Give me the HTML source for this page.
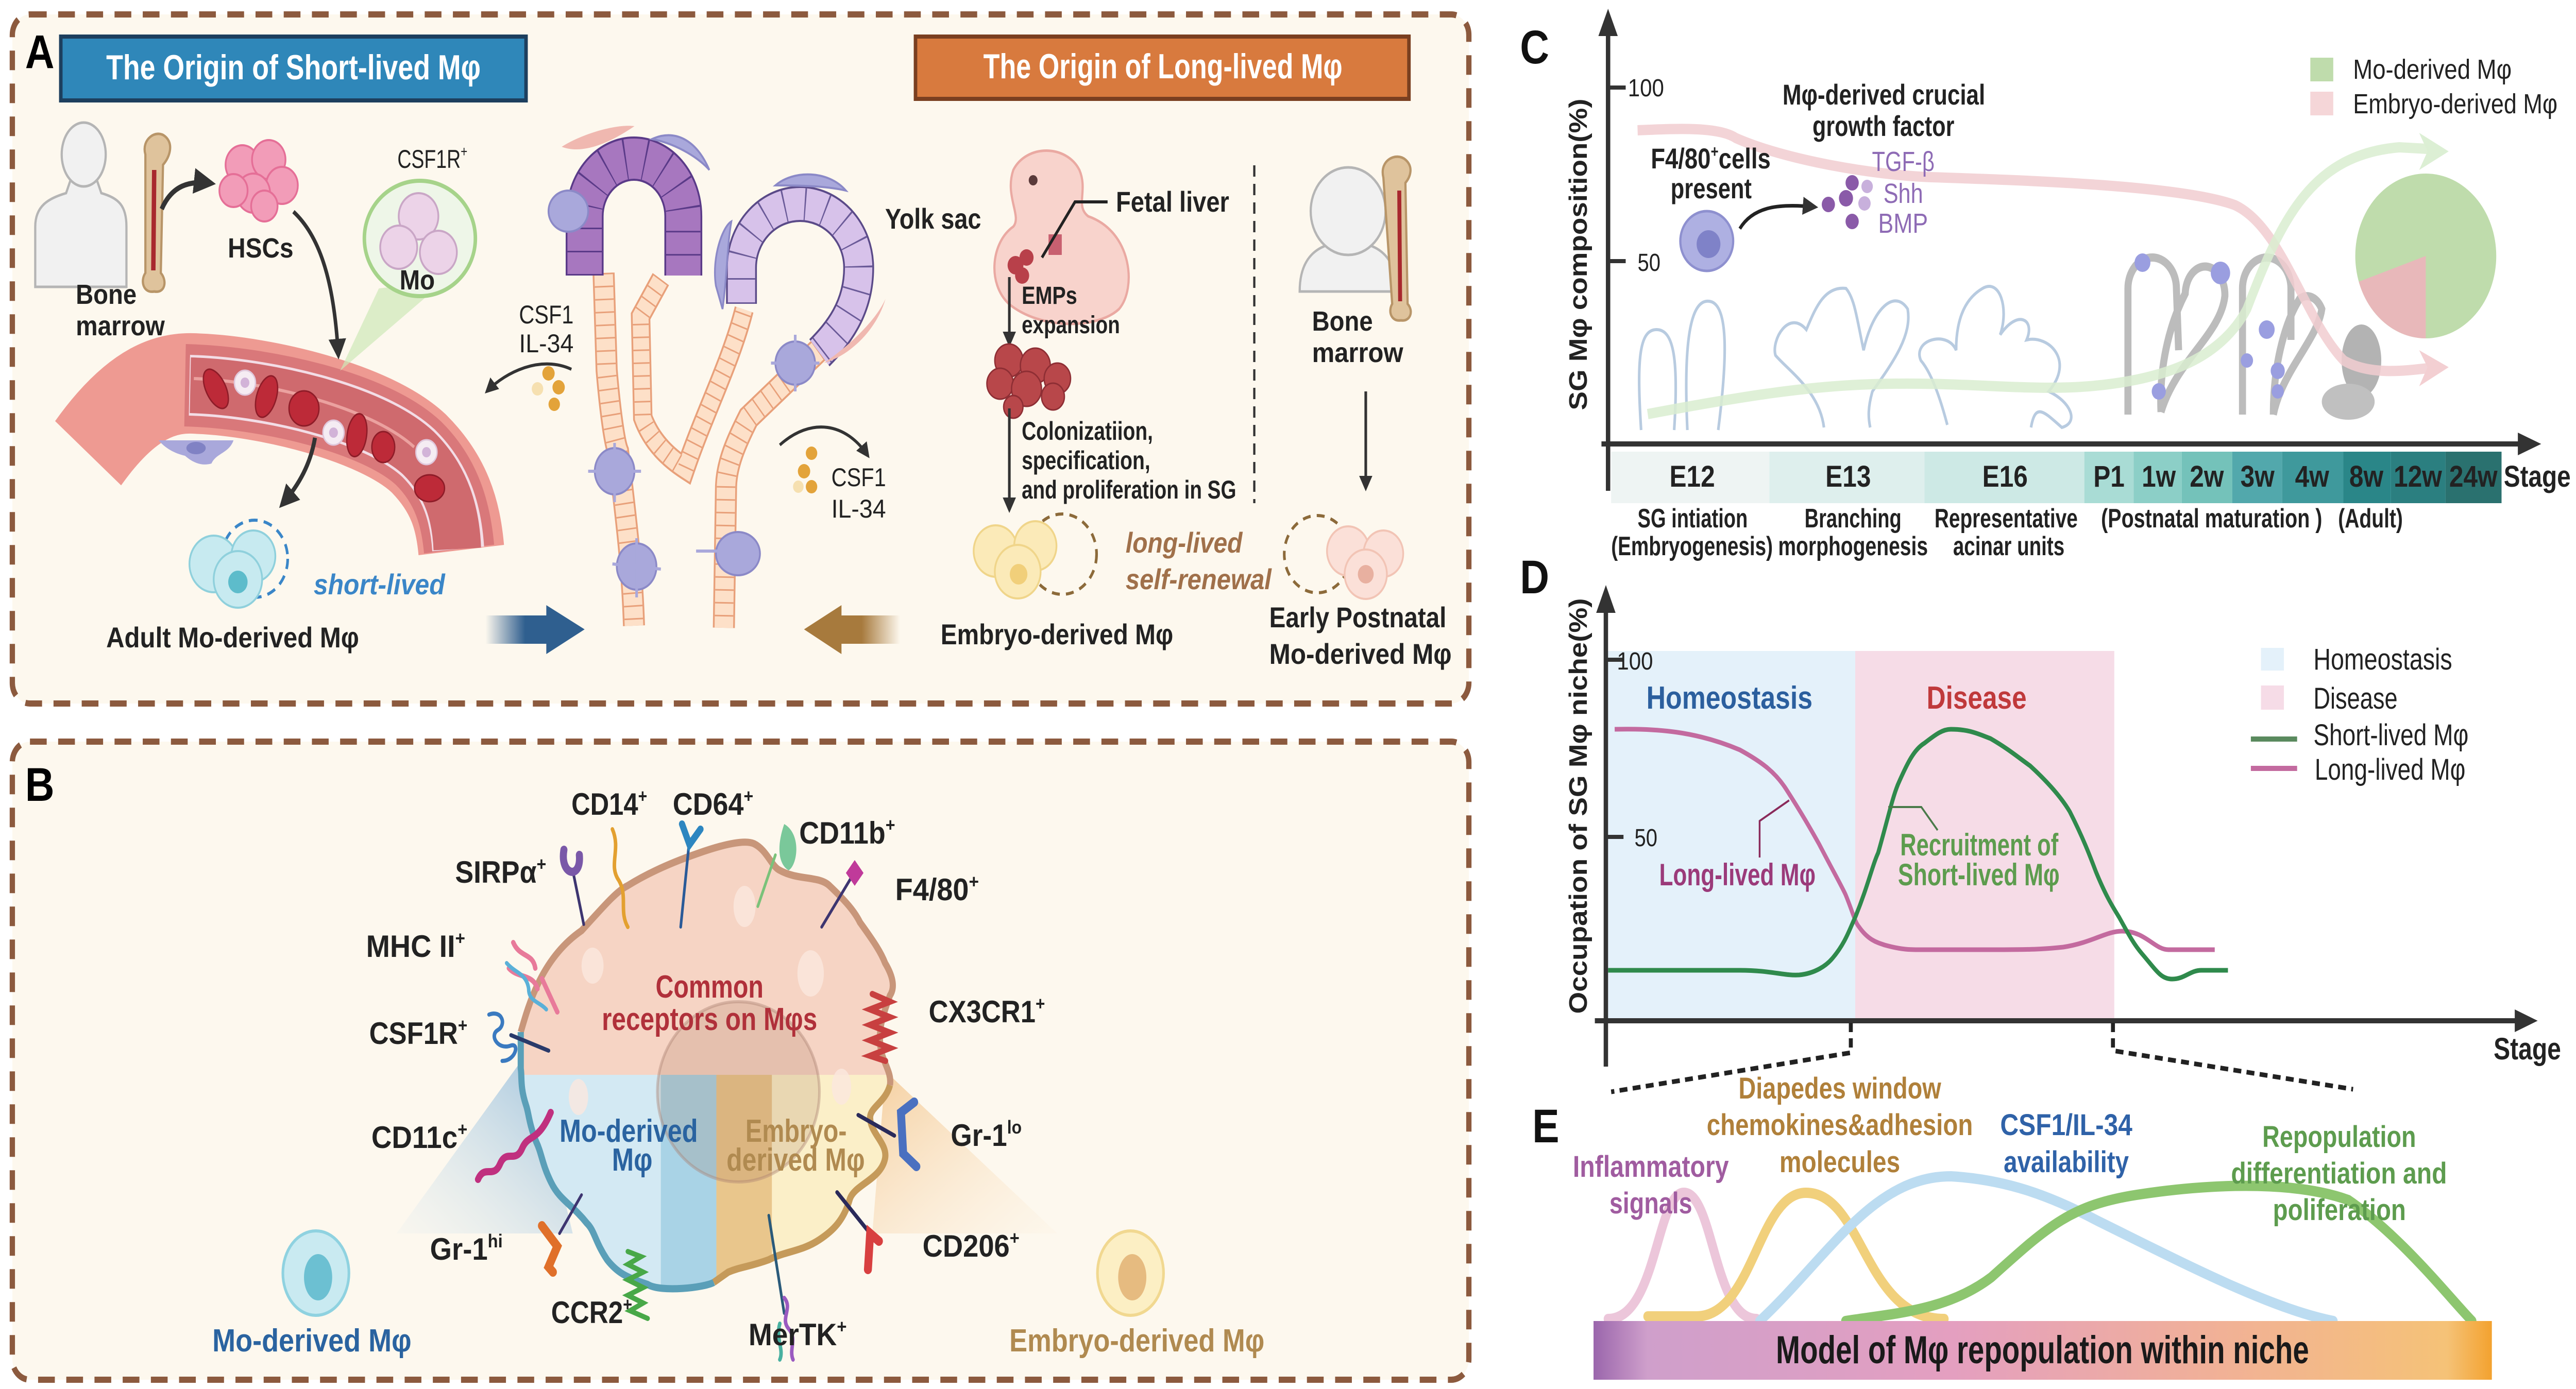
<!DOCTYPE html>
<html><head><meta charset="utf-8"><style>
html,body{margin:0;padding:0;background:#fff;overflow:hidden;width:100%;height:100%;}
svg{display:block;position:absolute;left:0;top:0;width:100vw;height:100vh;}
.t{font-family:"Liberation Sans Narrow","Liberation Sans",sans-serif;font-weight:bold;}
.r{font-family:"Liberation Sans Narrow","Liberation Sans",sans-serif;font-weight:normal;}
.w{font-family:"Liberation Sans","DejaVu Sans",sans-serif;font-weight:bold;}
</style></head><body>
<svg viewBox="0 0 5847 2697" preserveAspectRatio="none" xmlns="http://www.w3.org/2000/svg">
<defs>
<marker id="ar" viewBox="0 0 10 10" refX="8" refY="5" markerWidth="5" markerHeight="5" orient="auto"><path d="M0,0 L10,5 L0,10 Z" fill="#333"/></marker>
<linearGradient id="barg" x1="0" x2="1"><stop offset="0" stop-color="#9a66ac"/><stop offset="0.06" stop-color="#cf9fcb"/><stop offset="0.4" stop-color="#e49fc0"/><stop offset="0.7" stop-color="#f1b196"/><stop offset="0.95" stop-color="#f5c277"/><stop offset="1" stop-color="#f3a22f"/></linearGradient>
<linearGradient id="blueA" x1="0" x2="1"><stop offset="0" stop-color="#2f5f8f" stop-opacity="0"/><stop offset="0.4" stop-color="#2f5f8f"/></linearGradient>
<linearGradient id="brownA" x1="1" x2="0"><stop offset="0" stop-color="#a77a3d" stop-opacity="0"/><stop offset="0.4" stop-color="#a77a3d"/></linearGradient>
<linearGradient id="coneB" x1="1" y1="0" x2="0" y2="1"><stop offset="0" stop-color="#7fb0d6" stop-opacity="0.8"/><stop offset="1" stop-color="#cfe3f0" stop-opacity="0.1"/></linearGradient>
<linearGradient id="coneY" x1="0" y1="0" x2="1" y2="1"><stop offset="0" stop-color="#f3c48a" stop-opacity="0.8"/><stop offset="1" stop-color="#fbe8cf" stop-opacity="0.1"/></linearGradient>
<linearGradient id="vesL" x1="0" x2="1"><stop offset="0" stop-color="#ee9a92" stop-opacity="0"/><stop offset="0.3" stop-color="#ee9a92"/></linearGradient>
<clipPath id="cell"><path d="M1182,2004 C1200,1950 1230,1860 1320,1807 C1370,1760 1400,1730 1424,1720 C1480,1690 1540,1670 1584,1657 C1640,1640 1690,1630 1711,1638 C1740,1650 1750,1680 1768,1689 C1810,1710 1860,1700 1883,1720 C1920,1750 1940,1770 1952,1791 C1985,1830 2000,1850 2009,1870 C2030,1900 2030,1920 2020,1933 C2000,1980 1995,2000 1998,2028 C2000,2060 2025,2080 2020,2107 C2010,2140 1975,2150 1975,2170 C1975,2200 2015,2220 2009,2249 C2000,2290 1940,2300 1929,2328 C1915,2370 1890,2390 1860,2407 C1820,2430 1780,2430 1745,2446 C1700,2460 1680,2460 1653,2470 C1620,2490 1610,2500 1584,2494 C1540,2510 1500,2510 1470,2494 C1420,2480 1400,2470 1378,2446 C1350,2410 1350,2390 1332,2375 C1300,2340 1270,2330 1251,2296 C1230,2260 1230,2240 1217,2217 C1200,2180 1200,2160 1194,2146 C1180,2110 1185,2090 1182,2075 Z"/></clipPath>
</defs>

<!-- ================= PANEL A ================= -->
<rect x="28" y="28" width="3306" height="1338" rx="40" fill="#fdf8ee" stroke="#8c5a3e" stroke-width="12" stroke-dasharray="38 26"/>
<text class="w" x="57" y="132" font-size="92">A</text>
<rect x="138" y="71" width="1056" height="124" fill="#2f87b9" stroke="#1d3f5e" stroke-width="8"/>
<text class="t" x="241" y="154" font-size="68" fill="#fff" textLength="850" lengthAdjust="spacingAndGlyphs">The Origin of Short-lived Mφ</text>
<rect x="2078" y="71" width="1120" height="121" fill="#d87a3e" stroke="#7a3f20" stroke-width="8"/>
<text class="t" x="2232" y="152" font-size="68" fill="#fff" textLength="815" lengthAdjust="spacingAndGlyphs">The Origin of Long-lived Mφ</text>

<!-- person -->
<g fill="#f1f1f1" stroke="#b5b5b5" stroke-width="5">
<path d="M80,557 L80,440 C80,400 110,385 150,375 L160,350 L220,350 L230,375 C270,385 287,400 287,440 L287,557 Z"/>
<ellipse cx="190" cy="300" rx="50" ry="62"/>
</g>
<path d="M330,300 C320,270 355,250 375,265 C395,280 385,305 370,320 L365,530 C380,545 375,570 350,566 C325,570 318,545 330,530 Z" fill="#dfc39c" stroke="#b89568" stroke-width="5"/>
<path d="M350,330 L348,525" stroke="#a8282e" stroke-width="10"/>
<text class="t" x="172" y="590" font-size="54" fill="#222" textLength="138" lengthAdjust="spacingAndGlyphs">Bone</text>
<text class="t" x="172" y="651" font-size="54" fill="#222" textLength="202" lengthAdjust="spacingAndGlyphs">marrow</text>
<path d="M367,406 C390,360 430,350 480,356" fill="none" stroke="#333" stroke-width="10" marker-end="url(#ar)"/>
<g fill="#f29cb8" stroke="#e56f97" stroke-width="4">
<circle cx="550" cy="320" r="38"/><circle cx="610" cy="310" r="38"/><circle cx="640" cy="360" r="36"/><circle cx="575" cy="375" r="38"/><circle cx="530" cy="370" r="32"/><circle cx="600" cy="400" r="30"/>
</g>
<text class="t" x="517" y="500" font-size="54" fill="#222" textLength="149" lengthAdjust="spacingAndGlyphs">HSCs</text>
<!-- vessel -->
<path d="M200,880 C300,760 380,740 450,745 C600,750 850,800 950,880 C1020,940 1040,1000 1047,1068" fill="none" stroke="#ee9a92" stroke-width="195"/>
<path d="M150,900 C200,850 230,820 260,800" fill="none" stroke="#fdf8ee" stroke-width="0"/>
<path d="M420,748 C600,752 850,800 950,880 C1015,935 1035,1000 1042,1066" fill="none" stroke="#d9787a" stroke-width="160"/>
<path d="M430,748 C600,752 850,800 950,880 C1015,935 1035,1000 1040,1066" fill="none" stroke="#f3dde6" stroke-width="118"/>
<path d="M432,748 C600,752 850,800 950,880 C1015,935 1035,1000 1038,1066" fill="none" stroke="#cf6a6e" stroke-width="108"/>
<path d="M440,735 C600,740 840,790 940,868" fill="none" stroke="#f6b9b3" stroke-width="6" opacity="0.7"/>
<g fill="#bd2a38" stroke="#8e1c28" stroke-width="3">
<ellipse cx="490" cy="755" rx="22" ry="42" transform="rotate(-30 490 755)"/><ellipse cx="605" cy="770" rx="22" ry="42" transform="rotate(20 605 770)"/><ellipse cx="690" cy="793" rx="34" ry="34"/><ellipse cx="810" cy="845" rx="22" ry="42" transform="rotate(10 810 845)"/><ellipse cx="870" cy="868" rx="26" ry="30"/><ellipse cx="975" cy="948" rx="34" ry="26"/>
</g>
<g fill="#f5ecf3" stroke="#e0c8dc" stroke-width="3"><circle cx="556" cy="743" r="24"/><circle cx="757" cy="840" r="24"/><circle cx="968" cy="878" r="24"/></g>
<g fill="#d2b3d8"><circle cx="556" cy="743" r="10"/><circle cx="757" cy="840" r="10"/><circle cx="968" cy="878" r="10"/></g>
<path d="M360,855 L530,855 C520,880 490,880 480,900 C460,905 440,900 420,885 C395,880 375,870 360,855Z" fill="#a9a8db"/>
<ellipse cx="445" cy="870" rx="22" ry="12" fill="#8082c4"/>
<!-- Mo circle + cone -->
<polygon points="772,720 860,560 1010,545" fill="#cde8b8" opacity="0.7"/>
<ellipse cx="953" cy="463" rx="126" ry="112" fill="#eef6e8" stroke="#a6d38a" stroke-width="8"/>
<g fill="#ecd3e8" stroke="#c9a6c6" stroke-width="4"><circle cx="950" cy="420" r="45"/><circle cx="905" cy="480" r="42"/><circle cx="995" cy="490" r="42"/></g>
<text class="r" x="902" y="326" font-size="50" fill="#222" textLength="159" lengthAdjust="spacingAndGlyphs">CSF1R<tspan font-size="30" dy="-22">+</tspan></text>
<text class="t" x="907" y="562" font-size="54" fill="#222" textLength="80" lengthAdjust="spacingAndGlyphs">Mo</text>
<path d="M666,411 C740,470 760,580 768,690" fill="none" stroke="#333" stroke-width="8" marker-end="url(#ar)"/>
<path d="M715,850 C705,900 680,940 640,980" fill="none" stroke="#333" stroke-width="9" marker-end="url(#ar)"/>
<!-- short-lived cells -->
<circle cx="578" cy="1085" r="75" fill="none" stroke="#3a86c8" stroke-width="6" stroke-dasharray="20 14"/>
<g fill="#c7eaf0" stroke="#8fd0dc" stroke-width="4"><circle cx="485" cy="1095" r="55"/><circle cx="575" cy="1080" r="50"/><circle cx="540" cy="1125" r="55"/></g>
<circle cx="540" cy="1130" r="22" fill="#5dbccb"/>
<text class="t" x="712" y="1154" font-size="56" font-style="italic" fill="#3a86c8" textLength="298" lengthAdjust="spacingAndGlyphs">short-lived</text>
<text class="t" x="241" y="1257" font-size="56" fill="#222" textLength="574" lengthAdjust="spacingAndGlyphs">Adult Mo-derived Mφ</text>
<polygon points="1102,1195 1240,1195 1240,1175 1327,1222 1240,1270 1240,1250 1102,1250" fill="url(#blueA)"/>
<polygon points="2043,1195 1910,1195 1910,1175 1825,1222 1910,1270 1910,1250 2043,1250" fill="url(#brownA)"/>

<!-- gland -->
<g fill="none" stroke-linecap="butt">
<path d="M1370,530 L1377,719 C1385,800 1395,860 1403,877 C1420,1000 1435,1100 1439,1215" stroke="#e8a07a" stroke-width="50"/>
<path d="M1370,530 L1377,719 C1385,800 1395,860 1403,877 C1420,1000 1435,1100 1439,1215" stroke="#fde0c8" stroke-width="42"/>
<path d="M1370,530 L1377,719 C1385,800 1395,860 1403,877 C1420,1000 1435,1100 1439,1215" stroke="#e8a07a" stroke-width="42" stroke-dasharray="3 22"/>
<path d="M1500,542 L1454,614 L1459,811 C1480,860 1520,890 1556,910 C1600,800 1660,700 1689,601" stroke="#e8a07a" stroke-width="44"/>
<path d="M1500,542 L1454,614 L1459,811 C1480,860 1520,890 1556,910 C1600,800 1660,700 1689,601" stroke="#fde0c8" stroke-width="36"/>
<path d="M1500,542 L1454,614 L1459,811 C1480,860 1520,890 1556,910 C1600,800 1660,700 1689,601" stroke="#e8a07a" stroke-width="36" stroke-dasharray="3 22"/>
<path d="M1858,680 L1699,811 C1670,860 1650,900 1648,943 L1643,1219" stroke="#e8a07a" stroke-width="50"/>
<path d="M1858,680 L1699,811 C1670,860 1650,900 1648,943 L1643,1219" stroke="#fde0c8" stroke-width="42"/>
<path d="M1858,680 L1699,811 C1670,860 1650,900 1648,943 L1643,1219" stroke="#e8a07a" stroke-width="42" stroke-dasharray="3 22"/>
<path d="M1327,535 L1327,420 A112,112 0 0 1 1551,420 L1551,535" stroke="#5a3a88" stroke-width="86"/>
<path d="M1327,535 L1327,420 A112,112 0 0 1 1551,420 L1551,535" stroke="#a777bf" stroke-width="78"/>
<path d="M1327,535 L1327,420 A112,112 0 0 1 1551,420 L1551,535" stroke="#5a3a88" stroke-width="78" stroke-dasharray="3 42"/>
<path d="M1683,590 L1683,520 A133,124 0 0 1 1949,520 C1949,600 1900,650 1860,685" stroke="#5a4a88" stroke-width="70"/>
<path d="M1683,590 L1683,520 A133,124 0 0 1 1949,520 C1949,600 1900,650 1860,685" stroke="#d7c2ea" stroke-width="62"/>
<path d="M1683,590 L1683,520 A133,124 0 0 1 1949,520 C1949,600 1900,650 1860,685" stroke="#6a5a98" stroke-width="62" stroke-dasharray="3 44"/>
</g>
<g fill="#a9a8db" stroke="#8b89c7" stroke-width="4">
<ellipse cx="1290" cy="410" rx="45" ry="40"/><path d="M1480,270 C1530,250 1580,270 1610,330 C1590,310 1540,280 1480,270Z"/><path d="M1760,360 C1800,330 1880,330 1920,370 C1870,360 1800,360 1760,360Z"/><path d="M1625,555 C1615,500 1640,440 1660,430 C1650,480 1650,540 1640,600Z"/>
<ellipse cx="1805" cy="705" rx="45" ry="42"/><ellipse cx="1395" cy="915" rx="45" ry="45"/><ellipse cx="1445" cy="1100" rx="45" ry="45"/><ellipse cx="1675" cy="1075" rx="50" ry="42"/>
</g>
<g stroke="#a9a8db" stroke-width="6"><path d="M1335,915 L1455,915 M1395,860 L1395,975 M1390,1095 L1500,1105 M1445,1045 L1445,1160 M1580,1070 L1720,1070 M1750,705 L1860,705 M1805,650 L1805,760"/></g>
<path d="M1275,285 C1320,260 1400,240 1440,245 C1380,280 1320,300 1275,285Z" fill="#f0b8b0"/>
<path d="M1870,705 C1930,670 1990,620 2010,580 C1990,640 1930,690 1870,705Z" fill="#f0b8b0"/>
<text class="r" x="1178" y="628" font-size="50" fill="#222" textLength="124" lengthAdjust="spacingAndGlyphs">CSF1</text>
<text class="r" x="1178" y="684" font-size="50" fill="#222" textLength="124" lengthAdjust="spacingAndGlyphs">IL-34</text>
<g fill="#e3a33a"><circle cx="1245" cy="725" r="14"/><circle cx="1268" cy="752" r="14"/><circle cx="1258" cy="785" r="13"/></g><circle cx="1220" cy="755" r="13" fill="#f6e0b0"/>
<path d="M1297,717 C1230,690 1150,720 1105,760" fill="none" stroke="#333" stroke-width="6" marker-end="url(#ar)"/>
<text class="r" x="1887" y="944" font-size="50" fill="#222" textLength="124" lengthAdjust="spacingAndGlyphs">CSF1</text>
<text class="r" x="1887" y="1005" font-size="50" fill="#222" textLength="124" lengthAdjust="spacingAndGlyphs">IL-34</text>
<g fill="#e3a33a"><circle cx="1842" cy="880" r="13"/><circle cx="1825" cy="915" r="14"/><circle cx="1842" cy="945" r="13"/></g><circle cx="1812" cy="945" r="12" fill="#f6e0b0"/>
<path d="M1770,864 C1840,810 1920,820 1970,885" fill="none" stroke="#333" stroke-width="6" marker-end="url(#ar)"/>

<!-- right side A -->
<path d="M2300,330 C2330,280 2420,280 2450,330 C2470,370 2440,400 2470,420 C2570,450 2580,560 2540,600 C2490,640 2360,640 2290,590 C2240,550 2250,470 2300,440 C2320,420 2280,380 2300,330Z" fill="#f8d3cc" stroke="#eaa9a2" stroke-width="5"/>
<circle cx="2345" cy="350" r="10" fill="#5a3a3a"/>
<g fill="#b8404a"><circle cx="2305" cy="515" r="18"/><circle cx="2330" cy="500" r="16"/><circle cx="2320" cy="535" r="16"/></g>
<rect x="2380" y="455" width="30" height="40" fill="#c86070"/>
<path d="M2514,392 L2440,392 L2365,500" fill="none" stroke="#222" stroke-width="6"/>
<text class="t" x="2009" y="444" font-size="56" fill="#222" textLength="218" lengthAdjust="spacingAndGlyphs">Yolk sac</text>
<text class="t" x="2533" y="411" font-size="56" fill="#222" textLength="257" lengthAdjust="spacingAndGlyphs">Fetal liver</text>
<text class="t" x="2319" y="590" font-size="48" fill="#222" textLength="126" lengthAdjust="spacingAndGlyphs">EMPs</text>
<text class="t" x="2319" y="647" font-size="48" fill="#222" textLength="223" lengthAdjust="spacingAndGlyphs">expansion</text>
<line x1="2291" y1="538" x2="2291" y2="668" stroke="#333" stroke-width="6" marker-end="url(#ar)"/>
<g fill="#b8474a" stroke="#8e2e34" stroke-width="3"><circle cx="2290" cy="700" r="32"/><circle cx="2350" cy="710" r="34"/><circle cx="2400" cy="735" r="30"/><circle cx="2270" cy="745" r="30"/><circle cx="2330" cy="755" r="34"/><circle cx="2390" cy="770" r="26"/><circle cx="2300" cy="790" r="22"/></g>
<line x1="2291" y1="793" x2="2291" y2="990" stroke="#333" stroke-width="6" marker-end="url(#ar)"/>
<text class="t" x="2319" y="854" font-size="50" fill="#222" textLength="298" lengthAdjust="spacingAndGlyphs">Colonizatiion,</text>
<text class="t" x="2319" y="911" font-size="50" fill="#222" textLength="292" lengthAdjust="spacingAndGlyphs">specification,</text>
<text class="t" x="2319" y="968" font-size="50" fill="#222" textLength="487" lengthAdjust="spacingAndGlyphs">and proliferation in SG</text>
<line x1="2847" y1="321" x2="2847" y2="977" stroke="#333" stroke-width="5" stroke-dasharray="22 14"/>
<g fill="#f1f1f1" stroke="#b5b5b5" stroke-width="5">
<path d="M2950,566 C2950,500 2990,470 3060,470 C3130,470 3170,500 3170,566 Z"/>
<circle cx="3060" cy="410" r="85"/>
</g>
<path d="M3140,345 C3130,310 3170,295 3190,310 C3210,325 3200,345 3190,355 L3195,590 C3210,605 3200,625 3180,622 C3158,625 3150,605 3160,590 Z" fill="#dfc39c" stroke="#b89568" stroke-width="5"/>
<path d="M3176,370 L3178,585" stroke="#a8282e" stroke-width="9"/>
<text class="t" x="2978" y="642" font-size="54" fill="#222" textLength="138" lengthAdjust="spacingAndGlyphs">Bone</text>
<text class="t" x="2978" y="703" font-size="54" fill="#222" textLength="207" lengthAdjust="spacingAndGlyphs">marrow</text>
<line x1="3100" y1="760" x2="3100" y2="948" stroke="#333" stroke-width="6" marker-end="url(#ar)"/>
<circle cx="2411" cy="1076" r="78" fill="none" stroke="#8c6a3a" stroke-width="6" stroke-dasharray="18 14"/>
<g fill="#fbeab8" stroke="#f0d58a" stroke-width="4"><circle cx="2260" cy="1070" r="50"/><circle cx="2350" cy="1060" r="48"/><circle cx="2310" cy="1110" r="52"/></g>
<circle cx="2312" cy="1115" r="20" fill="#f1cf7a"/>
<text class="t" x="2555" y="1073" font-size="56" font-style="italic" fill="#a0704a" textLength="265" lengthAdjust="spacingAndGlyphs">long-lived</text>
<text class="t" x="2555" y="1144" font-size="56" font-style="italic" fill="#a0704a" textLength="331" lengthAdjust="spacingAndGlyphs">self-renewal</text>
<circle cx="2990" cy="1076" r="75" fill="none" stroke="#8c6a3a" stroke-width="6" stroke-dasharray="18 14"/>
<g fill="#fbe0d8" stroke="#f2c4b5" stroke-width="4"><circle cx="3060" cy="1070" r="48"/><circle cx="3140" cy="1075" r="45"/><circle cx="3100" cy="1115" r="48"/></g>
<circle cx="3100" cy="1115" r="18" fill="#e8b0a0"/>
<text class="t" x="2135" y="1251" font-size="56" fill="#222" textLength="528" lengthAdjust="spacingAndGlyphs">Embryo-derived Mφ</text>
<text class="t" x="2881" y="1218" font-size="56" fill="#222" textLength="402" lengthAdjust="spacingAndGlyphs">Early Postnatal</text>
<text class="t" x="2881" y="1289" font-size="56" fill="#222" textLength="414" lengthAdjust="spacingAndGlyphs">Mo-derived Mφ</text>

<!-- ================= PANEL B ================= -->
<rect x="28" y="1440" width="3306" height="1239" rx="40" fill="#fdf8ee" stroke="#8c5a3e" stroke-width="12" stroke-dasharray="38 26"/>
<text class="w" x="57" y="1555" font-size="92">B</text>
<polygon points="1200,2040 900,2395 1300,2395" fill="url(#coneB)"/>
<polygon points="2010,2080 2400,2395 1980,2395" fill="url(#coneY)"/>
<g clip-path="url(#cell)">
<rect x="1100" y="1600" width="1000" height="487" fill="#f6d4c4"/>
<rect x="1100" y="2087" width="526" height="500" fill="#d3e9f3"/>
<rect x="1626" y="2087" width="500" height="500" fill="#fbefc8"/>
<rect x="1500" y="2087" width="126" height="500" fill="#a9d3e6"/>
<rect x="1626" y="2087" width="126" height="500" fill="#e9c68c"/>
</g>
<path d="M1182,2004 C1200,1950 1230,1860 1320,1807 C1370,1760 1400,1730 1424,1720 C1480,1690 1540,1670 1584,1657 C1640,1640 1690,1630 1711,1638 C1740,1650 1750,1680 1768,1689 C1810,1710 1860,1700 1883,1720 C1920,1750 1940,1770 1952,1791 C1985,1830 2000,1850 2009,1870 C2030,1900 2030,1920 2020,1933 C2000,1980 1995,2000 1998,2028 C2000,2060 2025,2080 2020,2107" fill="none" stroke="#c8967a" stroke-width="14"/>
<path d="M2020,2107 C2010,2140 1975,2150 1975,2170 C1975,2200 2015,2220 2009,2249 C2000,2290 1940,2300 1929,2328 C1915,2370 1890,2390 1860,2407 C1820,2430 1780,2430 1745,2446 C1700,2460 1680,2460 1653,2470 C1640,2478 1630,2484 1620,2490" fill="none" stroke="#c59a5a" stroke-width="14"/>
<path d="M1620,2490 C1600,2500 1500,2510 1470,2494 C1420,2480 1400,2470 1378,2446 C1350,2410 1350,2390 1332,2375 C1300,2340 1270,2330 1251,2296 C1230,2260 1230,2240 1217,2217 C1200,2180 1200,2160 1194,2146 C1180,2110 1185,2090 1182,2075 L1182,2004" fill="none" stroke="#5a9fb8" stroke-width="14"/>
<ellipse cx="1676" cy="2120" rx="184" ry="175" fill="#9a6a50" fill-opacity="0.18" stroke="#a98070" stroke-opacity="0.4" stroke-width="6"/>
<g fill="#fbe7df" opacity="0.8"><ellipse cx="1690" cy="1760" rx="25" ry="40"/><ellipse cx="1345" cy="1875" rx="25" ry="35"/><ellipse cx="1840" cy="1890" rx="30" ry="45"/><ellipse cx="1313" cy="2130" rx="22" ry="35"/><ellipse cx="1910" cy="2110" rx="22" ry="35"/></g>
<text class="t" x="1488" y="1937" font-size="62" fill="#b0303a" textLength="245" lengthAdjust="spacingAndGlyphs">Common</text>
<text class="t" x="1366" y="2000" font-size="62" fill="#b0303a" textLength="489" lengthAdjust="spacingAndGlyphs">receptors on Mφs</text>
<text class="t" x="1270" y="2217" font-size="62" fill="#2a63a0" textLength="314" lengthAdjust="spacingAndGlyphs">Mo-derived</text>
<text class="t" x="1389" y="2273" font-size="62" fill="#2a63a0" textLength="92" lengthAdjust="spacingAndGlyphs">Mφ</text>
<text class="t" x="1692" y="2217" font-size="62" fill="#b08a50" textLength="230" lengthAdjust="spacingAndGlyphs">Embryo-</text>
<text class="t" x="1649" y="2273" font-size="62" fill="#b08a50" textLength="314" lengthAdjust="spacingAndGlyphs">derived Mφ</text>
<g fill="none" stroke-linecap="round">
<line x1="1325" y1="1795" x2="1300" y2="1690" stroke="#3d3570" stroke-width="6"/><path d="M1280,1650 C1270,1700 1320,1710 1315,1660" stroke="#7a58a8" stroke-width="16"/>
<path d="M1390,1610 C1410,1650 1380,1680 1405,1710 C1425,1740 1405,1770 1425,1800" stroke="#e3a030" stroke-width="8"/>
<line x1="1545" y1="1800" x2="1565" y2="1630" stroke="#2a5a98" stroke-width="6"/><path d="M1548,1600 L1565,1640 L1590,1610" stroke="#2d86c0" stroke-width="14"/>
<line x1="1720" y1="1760" x2="1760" y2="1660" stroke="#7ac27a" stroke-width="6"/>
<line x1="1865" y1="1800" x2="1935" y2="1700" stroke="#3d3570" stroke-width="6"/>
<path d="M1165,1830 C1180,1860 1210,1850 1215,1880 M1155,1880 C1175,1900 1210,1890 1220,1920 M1230,1900 L1265,1965" stroke="#e87a9a" stroke-width="10"/>
<path d="M1150,1870 C1170,1890 1195,1890 1200,1920 C1200,1945 1225,1945 1240,1960" stroke="#5ab0d8" stroke-width="8"/>
<path d="M1110,1970 C1140,1960 1150,1990 1130,2000 C1110,2010 1130,2040 1160,2030 C1180,2025 1170,2060 1140,2060" stroke="#3a7ac0" stroke-width="8"/><line x1="1160" y1="2010" x2="1245" y2="2040" stroke="#2a3a6a" stroke-width="8"/>
<path d="M1980,1930 L2020,1945 L1975,1960 L2020,1975 L1975,1990 L2020,2005 L1975,2020 L2020,2035 L1975,2050 L2010,2060" stroke="#c84040" stroke-width="12"/>
<path d="M1085,2290 C1100,2260 1120,2290 1135,2260 C1150,2230 1170,2260 1185,2230 C1200,2200 1220,2220 1250,2160" stroke="#c0307f" stroke-width="14"/>
<line x1="1948" y1="2165" x2="2030" y2="2205" stroke="#2a2a5a" stroke-width="8"/><path d="M2075,2140 L2045,2160 L2050,2240 L2080,2265" stroke="#4a70c0" stroke-width="18"/>
<line x1="1320" y1="2320" x2="1270" y2="2395" stroke="#3d3570" stroke-width="6"/><path d="M1230,2380 L1265,2420 L1245,2460 L1255,2470" stroke="#e0702a" stroke-width="18"/>
<path d="M1425,2430 L1455,2440 L1425,2455 L1460,2470 L1425,2485 L1460,2500 L1425,2515 L1460,2530 L1430,2545 L1470,2560" stroke="#48a848" stroke-width="10"/>
<line x1="1745" y1="2360" x2="1780" y2="2550" stroke="#2a5a7a" stroke-width="6"/><path d="M1780,2520 C1800,2540 1770,2560 1790,2580 C1810,2600 1790,2620 1800,2640" stroke="#9a5ac0" stroke-width="8"/><path d="M1770,2570 C1760,2600 1780,2620 1770,2640" stroke="#48b0a0" stroke-width="8"/>
<line x1="1900" y1="2315" x2="1975" y2="2395" stroke="#2a2a5a" stroke-width="8"/><path d="M1995,2410 L1975,2395 L1970,2465" stroke="#d84040" stroke-width="18"/>
</g>
<path d="M1780,1600 C1820,1620 1810,1680 1790,1690 C1770,1680 1760,1650 1780,1600Z" fill="#7ac89a"/>
<polygon points="1940,1670 1960,1695 1940,1720 1920,1695" fill="#c03a9a"/>
<g class="t" fill="#222" font-size="60">
<text x="1297" y="1582" textLength="172" lengthAdjust="spacingAndGlyphs">CD14<tspan font-size="36" dy="-24">+</tspan></text>
<text x="1527" y="1582" textLength="183" lengthAdjust="spacingAndGlyphs">CD64<tspan font-size="36" dy="-24">+</tspan></text>
<text x="1814" y="1638" textLength="218" lengthAdjust="spacingAndGlyphs">CD11b<tspan font-size="36" dy="-24">+</tspan></text>
<text x="1033" y="1714" textLength="207" lengthAdjust="spacingAndGlyphs">SIRPα<tspan font-size="36" dy="-24">+</tspan></text>
<text x="2032" y="1748" textLength="190" lengthAdjust="spacingAndGlyphs">F4/80<tspan font-size="36" dy="-24">+</tspan></text>
<text x="831" y="1858" textLength="225" lengthAdjust="spacingAndGlyphs">MHC II<tspan font-size="36" dy="-24">+</tspan></text>
<text x="2108" y="1985" textLength="264" lengthAdjust="spacingAndGlyphs">CX3CR1<tspan font-size="36" dy="-24">+</tspan></text>
<text x="838" y="2027" textLength="223" lengthAdjust="spacingAndGlyphs">CSF1R<tspan font-size="36" dy="-24">+</tspan></text>
<text x="843" y="2229" textLength="218" lengthAdjust="spacingAndGlyphs">CD11c<tspan font-size="36" dy="-24">+</tspan></text>
<text x="2158" y="2225" textLength="161" lengthAdjust="spacingAndGlyphs">Gr-1<tspan font-size="36" dy="-24">lo</tspan></text>
<text x="976" y="2446" textLength="165" lengthAdjust="spacingAndGlyphs">Gr-1<tspan font-size="36" dy="-24">hi</tspan></text>
<text x="2094" y="2440" textLength="220" lengthAdjust="spacingAndGlyphs">CD206<tspan font-size="36" dy="-24">+</tspan></text>
<text x="1251" y="2569" textLength="184" lengthAdjust="spacingAndGlyphs">CCR2<tspan font-size="36" dy="-24">+</tspan></text>
<text x="1699" y="2612" textLength="223" lengthAdjust="spacingAndGlyphs">MerTK<tspan font-size="36" dy="-24">+</tspan></text>
</g>
<ellipse cx="717" cy="2472" rx="75" ry="82" fill="#c9eaf1" stroke="#8fd2e0" stroke-width="6"/>
<ellipse cx="722" cy="2480" rx="32" ry="45" fill="#6cc0d2"/>
<ellipse cx="2566" cy="2472" rx="75" ry="82" fill="#fcefc4" stroke="#f1d890" stroke-width="6"/>
<ellipse cx="2570" cy="2480" rx="32" ry="45" fill="#e6bb80"/>
<text class="t" x="482" y="2624" font-size="62" fill="#2a63a0" textLength="452" lengthAdjust="spacingAndGlyphs">Mo-derived Mφ</text>
<text class="t" x="2291" y="2624" font-size="62" fill="#b08a50" textLength="579" lengthAdjust="spacingAndGlyphs">Embryo-derived Mφ</text>

<!-- ================= PANEL C ================= -->
<text class="w" x="3450" y="123" font-size="92" fill="#111">C</text>
<line x1="3650" y1="60" x2="3650" y2="953" stroke="#333" stroke-width="10"/>
<polygon points="3650,17 3628,70 3672,70" fill="#333"/>
<line x1="3635" y1="862" x2="5720" y2="862" stroke="#333" stroke-width="10"/>
<polygon points="5768,862 5715,840 5715,884" fill="#333"/>
<line x1="3650" y1="170" x2="3690" y2="170" stroke="#333" stroke-width="8"/>
<line x1="3650" y1="507" x2="3690" y2="507" stroke="#333" stroke-width="8"/>
<text class="r" x="3695" y="187" font-size="48" fill="#222" textLength="82" lengthAdjust="spacingAndGlyphs">100</text>
<text class="r" x="3717" y="526" font-size="48" fill="#222" textLength="52" lengthAdjust="spacingAndGlyphs">50</text>
<text class="w" transform="translate(3602,494) rotate(-90)" text-anchor="middle" font-size="58" fill="#222" textLength="605" lengthAdjust="spacingAndGlyphs">SG Mφ composition(%)</text>
<g fill="none" stroke="#b8cbe0" stroke-width="6">
<path d="M3725,835 C3715,700 3720,640 3760,640 C3800,640 3810,700 3800,835"/>
<path d="M3830,835 C3820,650 3840,580 3880,585 C3925,590 3920,700 3900,835"/>
<path d="M4140,830 C4130,760 4060,720 4030,690 C4020,660 4060,600 4100,640 C4120,600 4140,555 4190,560 C4210,580 4215,620 4230,680 C4250,600 4300,560 4330,600 C4340,650 4300,700 4250,760 C4240,790 4240,810 4245,830"/>
<path d="M4420,825 C4400,760 4380,720 4360,700 C4340,660 4420,640 4440,680 C4440,620 4460,580 4500,560 C4540,540 4560,600 4540,650 C4580,600 4620,620 4600,660 C4650,650 4710,700 4650,760 C4700,780 4720,820 4680,830 C4640,800 4620,780 4610,830"/>
</g>
<g fill="none" stroke="#bcbcbc" stroke-width="16">
<path d="M4830,805 L4830,560 A55,60 0 0 1 4940,560 L4945,680 M4905,800 C4900,700 4930,620 4960,570 A45,55 0 0 1 5050,575 C5040,650 4940,700 4905,800"/>
<path d="M5090,805 L5090,560 A55,60 0 0 1 5200,560 L5200,660 M5160,805 C5160,700 5190,620 5220,580 A40,55 0 0 1 5270,600 C5260,660 5180,720 5160,805"/>
</g>
<g fill="#9a9ee0"><circle cx="4863" cy="510" r="18"/><circle cx="4900" cy="760" r="16"/><circle cx="5040" cy="530" r="22"/><circle cx="5145" cy="640" r="18"/><circle cx="5170" cy="720" r="16"/><circle cx="5100" cy="700" r="14"/><circle cx="5170" cy="760" r="14"/></g>
<ellipse cx="5360" cy="700" rx="45" ry="70" fill="#b3b3b3"/><ellipse cx="5330" cy="780" rx="60" ry="35" fill="#c0c0c0"/>
<path d="M3717,253 C3800,250 3900,245 3940,268 C4050,310 4250,340 4383,344 C4600,350 4950,360 5072,398 C5180,440 5230,620 5320,700 C5380,730 5460,720 5530,713" fill="none" stroke="#f1cdd0" stroke-width="20" opacity="0.85"/>
<polygon points="5491,680 5558,713 5491,750 5510,713" fill="#f3cfd2"/>
<path d="M3740,804 C3950,770 4100,750 4249,746 C4450,740 4600,760 4742,750 C4950,735 5050,680 5100,600 C5180,420 5250,300 5446,286 L5530,290" fill="none" stroke="#d9edd0" stroke-width="20" opacity="0.85"/>
<polygon points="5491,258 5558,294 5491,330 5510,294" fill="#dcefd4"/>
<circle cx="5506" cy="497" r="160" fill="#bfdcac"/>
<path d="M5506,497 L5506,657 A160,160 0 0 1 5354,547 Z" fill="#e8b8ba"/>
<rect x="5244" y="112" width="52" height="46" fill="#bfdcac"/>
<rect x="5244" y="178" width="52" height="46" fill="#f5d6d8"/>
<text class="r" x="5341" y="153" font-size="54" fill="#222" textLength="360" lengthAdjust="spacingAndGlyphs">Mo-derived Mφ</text>
<text class="r" x="5341" y="220" font-size="54" fill="#222" textLength="464" lengthAdjust="spacingAndGlyphs">Embryo-derived Mφ</text>
<text class="t" x="4046" y="203" font-size="56" fill="#222" textLength="460" lengthAdjust="spacingAndGlyphs">Mφ-derived crucial</text>
<text class="t" x="4114" y="264" font-size="56" fill="#222" textLength="322" lengthAdjust="spacingAndGlyphs">growth factor</text>
<text class="t" x="3747" y="327" font-size="56" fill="#222" textLength="272" lengthAdjust="spacingAndGlyphs">F4/80<tspan font-size="32" dy="-22">+</tspan><tspan dy="22">cells</tspan></text>
<text class="t" x="3792" y="385" font-size="56" fill="#222" textLength="184" lengthAdjust="spacingAndGlyphs">present</text>
<ellipse cx="3874" cy="468" rx="60" ry="58" fill="#aeb0e2" stroke="#8e90cf" stroke-width="5"/>
<circle cx="3878" cy="474" r="27" fill="#7f82c8"/>
<path d="M3949,444 C3980,400 4040,395 4120,402" fill="none" stroke="#222" stroke-width="7" marker-end="url(#ar)"/>
<g fill="#8a5aa8"><circle cx="4204" cy="355" r="15"/><circle cx="4190" cy="385" r="16"/><circle cx="4150" cy="397" r="15"/><circle cx="4204" cy="430" r="15"/></g>
<g fill="#c8b0dc"><circle cx="4238" cy="362" r="13"/><circle cx="4232" cy="395" r="14"/></g>
<text class="r" x="4249" y="332" font-size="54" fill="#8e6bb5" textLength="142" lengthAdjust="spacingAndGlyphs">TGF-β</text>
<text class="r" x="4275" y="394" font-size="54" fill="#8e6bb5" textLength="90" lengthAdjust="spacingAndGlyphs">Shh</text>
<text class="r" x="4263" y="452" font-size="54" fill="#8e6bb5" textLength="113" lengthAdjust="spacingAndGlyphs">BMP</text>
<rect x="3657" y="877" width="359" height="100" fill="#eef4f3"/>
<rect x="4016" y="877" width="352" height="100" fill="#deefed"/>
<rect x="4368" y="877" width="363" height="100" fill="#cde9e5"/>
<rect x="4731" y="877" width="112" height="100" fill="#a9dcd5"/>
<rect x="4843" y="877" width="109" height="100" fill="#8ccfc7"/>
<rect x="4952" y="877" width="115" height="100" fill="#74c2ba"/>
<rect x="5067" y="877" width="113" height="100" fill="#52a8ac"/>
<rect x="5180" y="877" width="139" height="100" fill="#3f999c"/>
<rect x="5319" y="877" width="108" height="100" fill="#2a8688"/>
<rect x="5427" y="877" width="124" height="100" fill="#2b7f80"/>
<rect x="5551" y="877" width="127" height="100" fill="#2a716f"/>
<g class="t" fill="#222" font-size="58" text-anchor="middle">
<text x="3841" y="945">E12</text><text x="4195" y="945">E13</text><text x="4551" y="945">E16</text><text x="4787" y="945">P1</text><text x="4900" y="945">1w</text><text x="5009" y="945">2w</text><text x="5124" y="945">3w</text><text x="5248" y="945">4w</text><text x="5371" y="945">8w</text><text x="5488" y="945">12w</text><text x="5614" y="945">24w</text>
</g>
<text class="t" x="5683" y="945" font-size="58" fill="#222" textLength="152" lengthAdjust="spacingAndGlyphs">Stage</text>
<g class="t" fill="#222" font-size="52">
<text x="3717" y="1024" textLength="250" lengthAdjust="spacingAndGlyphs">SG intiation</text>
<text x="3657" y="1078" textLength="367" lengthAdjust="spacingAndGlyphs">(Embryogenesis)</text>
<text x="4096" y="1024" textLength="220" lengthAdjust="spacingAndGlyphs">Branching</text>
<text x="4036" y="1078" textLength="340" lengthAdjust="spacingAndGlyphs">morphogenesis</text>
<text x="4391" y="1024" textLength="325" lengthAdjust="spacingAndGlyphs">Representative</text>
<text x="4433" y="1078" textLength="253" lengthAdjust="spacingAndGlyphs">acinar units</text>
<text x="4769" y="1024" textLength="502" lengthAdjust="spacingAndGlyphs">(Postnatal maturation )</text>
<text x="5307" y="1024" textLength="147" lengthAdjust="spacingAndGlyphs">(Adult)</text>
</g>

<!-- ================= PANEL D ================= -->
<text class="w" x="3450" y="1152" font-size="92" fill="#111">D</text>
<rect x="3650" y="1264" width="561" height="716" fill="#e4f1fa"/>
<rect x="4211" y="1264" width="588" height="716" fill="#f6dce7"/>
<line x1="3645" y1="1180" x2="3645" y2="2071" stroke="#333" stroke-width="10"/>
<polygon points="3645,1136 3623,1190 3667,1190" fill="#333"/>
<line x1="3620" y1="1982" x2="5715" y2="1982" stroke="#333" stroke-width="10"/>
<polygon points="5760,1982 5708,1960 5708,2004" fill="#333"/>
<line x1="3645" y1="1281" x2="3685" y2="1281" stroke="#333" stroke-width="8"/>
<line x1="3645" y1="1625" x2="3685" y2="1625" stroke="#333" stroke-width="8"/>
<text class="r" x="3670" y="1300" font-size="48" fill="#222" textLength="82" lengthAdjust="spacingAndGlyphs">100</text>
<text class="r" x="3710" y="1643" font-size="48" fill="#222" textLength="52" lengthAdjust="spacingAndGlyphs">50</text>
<text class="w" transform="translate(3602,1565) rotate(-90)" text-anchor="middle" font-size="58" fill="#222" textLength="807" lengthAdjust="spacingAndGlyphs">Occupation of SG Mφ niche(%)</text>
<text class="t" x="3737" y="1376" font-size="62" fill="#2b5f9e" textLength="377" lengthAdjust="spacingAndGlyphs">Homeostasis</text>
<text class="t" x="4373" y="1376" font-size="62" fill="#c0393b" textLength="227" lengthAdjust="spacingAndGlyphs">Disease</text>
<path d="M3665,1416 C3760,1414 3850,1420 3949,1456 C4000,1480 4030,1500 4054,1532 C4090,1580 4110,1610 4129,1639 C4160,1690 4180,1720 4189,1737 C4205,1770 4210,1790 4219,1799 C4240,1825 4260,1830 4278,1835 C4320,1845 4340,1844 4368,1844 L4548,1844 C4620,1844 4650,1842 4683,1839 C4750,1830 4780,1808 4817,1808 C4870,1808 4890,1844 4922,1844 L5027,1844" fill="none" stroke="#c36a9f" stroke-width="9"/>
<path d="M3650,1884 L3949,1884 C4020,1884 4050,1895 4084,1893 C4120,1890 4145,1875 4159,1861 C4190,1830 4200,1800 4211,1781 C4240,1720 4250,1680 4263,1656 C4285,1590 4295,1550 4308,1523 C4330,1480 4345,1455 4368,1443 C4395,1425 4410,1416 4428,1416 C4470,1416 4490,1425 4518,1434 C4560,1455 4580,1470 4608,1487 C4650,1520 4680,1550 4698,1576 C4730,1630 4745,1665 4757,1692 C4780,1740 4795,1760 4810,1781 C4835,1820 4845,1835 4862,1852 C4895,1885 4905,1901 4930,1901 C4960,1901 4970,1884 4997,1884 L5057,1884" fill="none" stroke="#2f8a4c" stroke-width="9"/>
<path d="M3994,1665 L3994,1594 L4061,1554" fill="none" stroke="#8a2a5a" stroke-width="4"/>
<path d="M4286,1567 L4361,1567 L4398,1612" fill="none" stroke="#4a7a4a" stroke-width="4"/>
<text class="t" x="3766" y="1719" font-size="60" fill="#9b3a7a" textLength="355" lengthAdjust="spacingAndGlyphs">Long-lived Mφ</text>
<text class="t" x="4313" y="1661" font-size="60" fill="#5d9c4e" textLength="359" lengthAdjust="spacingAndGlyphs">Recruitment of</text>
<text class="t" x="4308" y="1719" font-size="60" fill="#5d9c4e" textLength="367" lengthAdjust="spacingAndGlyphs">Short-lived Mφ</text>
<rect x="5132" y="1258" width="52" height="44" fill="#e4f1fa"/>
<rect x="5132" y="1331" width="52" height="47" fill="#f6dce7"/>
<line x1="5109" y1="1435" x2="5214" y2="1435" stroke="#5a8a5e" stroke-width="10"/>
<line x1="5109" y1="1492" x2="5214" y2="1492" stroke="#c36a9f" stroke-width="10"/>
<g class="r" fill="#222" font-size="58">
<text x="5251" y="1300" textLength="315" lengthAdjust="spacingAndGlyphs">Homeostasis</text>
<text x="5251" y="1376" textLength="191" lengthAdjust="spacingAndGlyphs">Disease</text>
<text x="5251" y="1447" textLength="352" lengthAdjust="spacingAndGlyphs">Short-lived Mφ</text>
<text x="5254" y="1514" textLength="342" lengthAdjust="spacingAndGlyphs">Long-lived Mφ</text>
</g>
<text class="t" x="5660" y="2057" font-size="60" fill="#222" textLength="153" lengthAdjust="spacingAndGlyphs">Stage</text>
<path d="M4201,1986 L4201,2044 L3657,2120" fill="none" stroke="#222" stroke-width="9" stroke-dasharray="18 12"/>
<path d="M4796,1986 L4796,2040 L5341,2115" fill="none" stroke="#222" stroke-width="9" stroke-dasharray="18 12"/>

<!-- ================= PANEL E ================= -->
<text class="w" x="3478" y="2218" font-size="92" fill="#111">E</text>
<g fill="none" stroke-width="20" stroke-linecap="round">
<path d="M3650,2561 C3760,2561 3760,2316 3822,2316 C3890,2316 3890,2561 3987,2561" stroke="#ecc6da"/>
<path d="M3740,2556 L3850,2556 C3980,2556 3990,2316 4099,2316 C4230,2316 4230,2561 4413,2561" stroke="#f1d07c"/>
<path d="M3994,2565 C4150,2440 4250,2284 4428,2284 C4550,2290 4650,2320 4760,2370 C4950,2450 5150,2540 5296,2565" stroke="#bcdcf1"/>
<path d="M4189,2565 C4300,2550 4420,2545 4520,2480 C4650,2380 4700,2340 4850,2320 C5000,2300 5200,2290 5330,2330 C5450,2400 5560,2520 5611,2565" stroke="#8dc66f"/>
</g>
<g class="t" font-size="58">
<text x="3570" y="2285" fill="#a05ca0" textLength="354" lengthAdjust="spacingAndGlyphs">Inflammatory</text>
<text x="3653" y="2356" fill="#a05ca0" textLength="188" lengthAdjust="spacingAndGlyphs">signals</text>
<text x="3946" y="2133" fill="#b0803a" textLength="460" lengthAdjust="spacingAndGlyphs">Diapedes window</text>
<text x="3874" y="2204" fill="#b0803a" textLength="604" lengthAdjust="spacingAndGlyphs">chemokines&amp;adhesion</text>
<text x="4039" y="2276" fill="#b0803a" textLength="274" lengthAdjust="spacingAndGlyphs">molecules</text>
<text x="4540" y="2204" fill="#2f62a8" textLength="300" lengthAdjust="spacingAndGlyphs">CSF1/IL-34</text>
<text x="4548" y="2276" fill="#2f62a8" textLength="284" lengthAdjust="spacingAndGlyphs">availability</text>
<text x="5135" y="2227" fill="#5d9c4e" textLength="349" lengthAdjust="spacingAndGlyphs">Repopulation</text>
<text x="5064" y="2298" fill="#5d9c4e" textLength="490" lengthAdjust="spacingAndGlyphs">differentiation and</text>
<text x="5159" y="2369" fill="#5d9c4e" textLength="302" lengthAdjust="spacingAndGlyphs">poliferation</text>
</g>
<rect x="3617" y="2565" width="2039" height="114" fill="url(#barg)"/>
<text class="t" x="4031" y="2647" font-size="76" fill="#1a1a1a" textLength="1210" lengthAdjust="spacingAndGlyphs">Model of Mφ repopulation within niche</text>
</svg>
</body></html>
